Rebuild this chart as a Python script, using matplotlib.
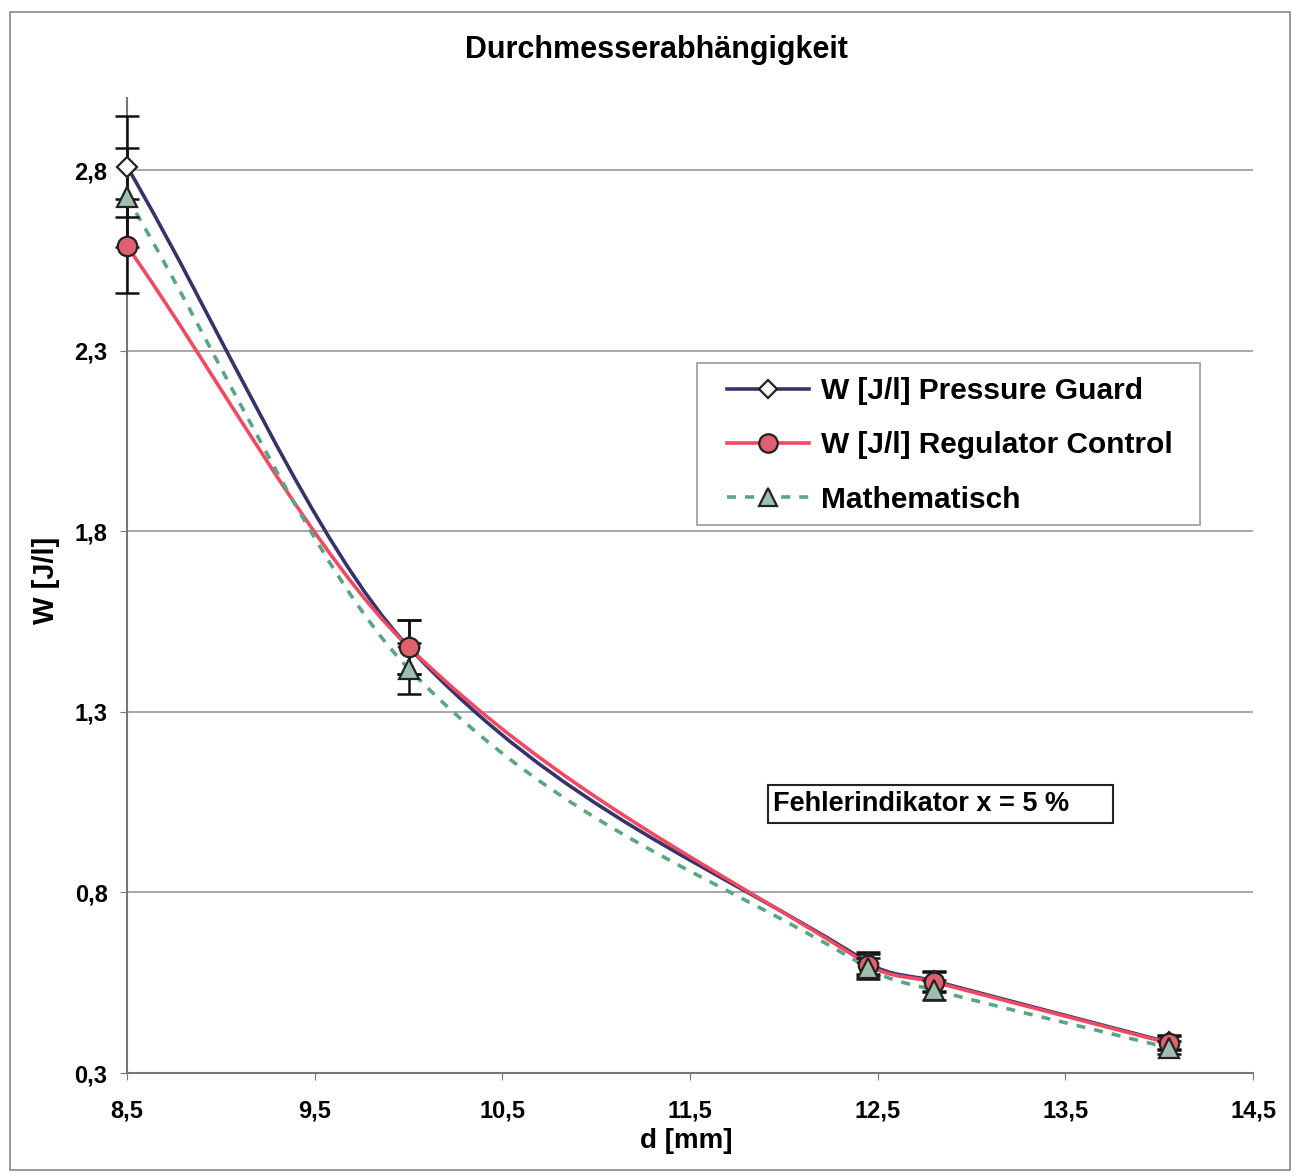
#!/usr/bin/env python3
"""Durchmesserabhängigkeit - W [J/l] über Düsendurchmesser d [mm]."""

import matplotlib
matplotlib.use("Agg")
import matplotlib.pyplot as plt
import numpy as np
from matplotlib.lines import Line2D
from matplotlib.path import Path
from matplotlib.patches import PathPatch, Rectangle

# --- data ---
d_mm = [8.5, 10.0, 12.45, 12.8, 14.05]
w_pressure_guard = [2.81, 1.48, 0.605, 0.555, 0.385]
w_regulator = [2.59, 1.48, 0.60, 0.552, 0.383]
w_math = [2.725, 1.42, 0.59, 0.53, 0.37]
err_pct = 0.05

x_ticks = [8.5, 9.5, 10.5, 11.5, 12.5, 13.5, 14.5]
y_ticks = [0.3, 0.8, 1.3, 1.8, 2.3, 2.8]

FONT = ["Liberation Sans", "DejaVu Sans"]
plt.rcParams["font.family"] = FONT
plt.rcParams["font.weight"] = "bold"

W, H = 1296, 1176


def smooth_path(xs, ys):
    # smoothed line: cubic Hermite in x (no loops), drawn as Bezier segments
    x = np.asarray(xs, float)
    y = np.asarray(ys, float)
    n = len(x)
    s = np.empty(n)
    s[0] = (y[1] - y[0]) / (x[1] - x[0])
    s[-1] = (y[-1] - y[-2]) / (x[-1] - x[-2])
    for i in range(1, n - 1):
        s[i] = (y[i + 1] - y[i - 1]) / (x[i + 1] - x[i - 1])
    verts = [(x[0], y[0])]
    codes = [Path.MOVETO]
    for i in range(n - 1):
        h = x[i + 1] - x[i]
        verts += [(x[i] + h / 3, y[i] + s[i] * h / 3),
                  (x[i + 1] - h / 3, y[i + 1] - s[i + 1] * h / 3),
                  (x[i + 1], y[i + 1])]
        codes += [Path.CURVE4] * 3
    return Path(verts, codes)


fig = plt.figure(figsize=(W / 100, H / 100), dpi=100)
fig.patch.set_facecolor("white")
fig.add_artist(Rectangle((10 / W, 6 / H), 1280 / W, 1158 / H,
                         transform=fig.transFigure, fill=False,
                         edgecolor="#888888", linewidth=1.2))

ax = fig.add_axes([127 / W, 1 - 1073 / H, 1126 / W, 975 / H])
ax.set_xlim(8.5, 14.5)
ax.set_ylim(0.3, 3.0)
ax.set_xticks(x_ticks)
ax.set_yticks(y_ticks)
ax.set_xticklabels([f"{v:.1f}".replace(".", ",") for v in x_ticks])
ax.set_yticklabels([f"{v:.1f}".replace(".", ",") for v in y_ticks])
ax.tick_params(labelsize=17, length=5, color="#777777", pad=9)
ax.tick_params(axis="x", pad=14)
for s in ["top", "right"]:
    ax.spines[s].set_visible(False)
for s in ["left", "bottom"]:
    ax.spines[s].set_color("#777777")
    ax.spines[s].set_linewidth(1.5)
for y in y_ticks[1:]:
    ax.axhline(y, color="#999999", linewidth=1.2, zorder=0)

series = [
    (w_pressure_guard, "#34346a", "-", "D", "white", 10, "W [J/l] Pressure Guard"),
    (w_regulator, "#f04a62", "-", "o", "#e0606e", 14, "W [J/l] Regulator Control"),
    (w_math, "#5aa582", (0, (2.5, 2.5)), "^", "#9fbfae", 14, "Mathematisch"),
]

for ys, col, ls, mk, mfc, ms, lab in series:
    ax.add_patch(PathPatch(smooth_path(d_mm, ys), fill=False, edgecolor=col,
                           linewidth=2.6, linestyle=ls, zorder=3))
    yerr = [v * err_pct for v in ys]
    eb = ax.errorbar(d_mm, ys, yerr=yerr, fmt="none", ecolor="#111111",
                     elinewidth=1.8, capsize=8.5, capthick=1.8, zorder=4)
    for art in eb.lines[1] + eb.lines[2]:
        art.set_clip_on(False)
    ax.plot(d_mm, ys, linestyle="none", marker=mk, markersize=ms,
            markerfacecolor=mfc, markeredgecolor="#222222",
            markeredgewidth=1.6, zorder=5, clip_on=False)

# legend: frame drawn separately so the inner padding matches the original
fig.add_artist(Rectangle((697 / W, 1 - 525 / H), 503 / W, 162 / H,
                         transform=fig.transFigure, facecolor="white",
                         edgecolor="#999999", linewidth=1.2, zorder=6))
proxies = [Line2D([], [], color=c, linestyle=ls, linewidth=2.6, marker=mk,
                  markersize=ms * 0.95, markerfacecolor=mfc,
                  markeredgecolor="#222222", markeredgewidth=1.6)
           for _, c, ls, mk, mfc, ms, _ in series]
leg = fig.legend(proxies, [s[-1] for s in series], loc="upper left",
                 bbox_to_anchor=(727 / W, 1 - 377 / H),
                 fontsize=21.5, frameon=False, handlelength=2.75,
                 borderpad=0, labelspacing=0.88, handletextpad=0.4,
                 borderaxespad=0)
leg.set_zorder(7)

fig.add_artist(Rectangle((768 / W, 1 - 823 / H), 345 / W, 38 / H,
                         transform=fig.transFigure, facecolor="white",
                         edgecolor="#222222", linewidth=1.5, zorder=6))
fig.text(773 / W, 1 - 804 / H, "Fehlerindikator x = 5 %",
         fontsize=19.5, va="center", ha="left", zorder=7)

fig.text(656 / W, 1 - 50 / H, "Durchmesserabhängigkeit",
         fontsize=22, ha="center", va="center")
fig.text(46 / W, 1 - 580 / H, "W [J/l]", fontsize=21,
         rotation=90, ha="center", va="center")
fig.text(686 / W, 1 - 1141 / H, "d [mm]", fontsize=20,
         ha="center", va="center")

fig.savefig("out.png", dpi=100, facecolor="white")
